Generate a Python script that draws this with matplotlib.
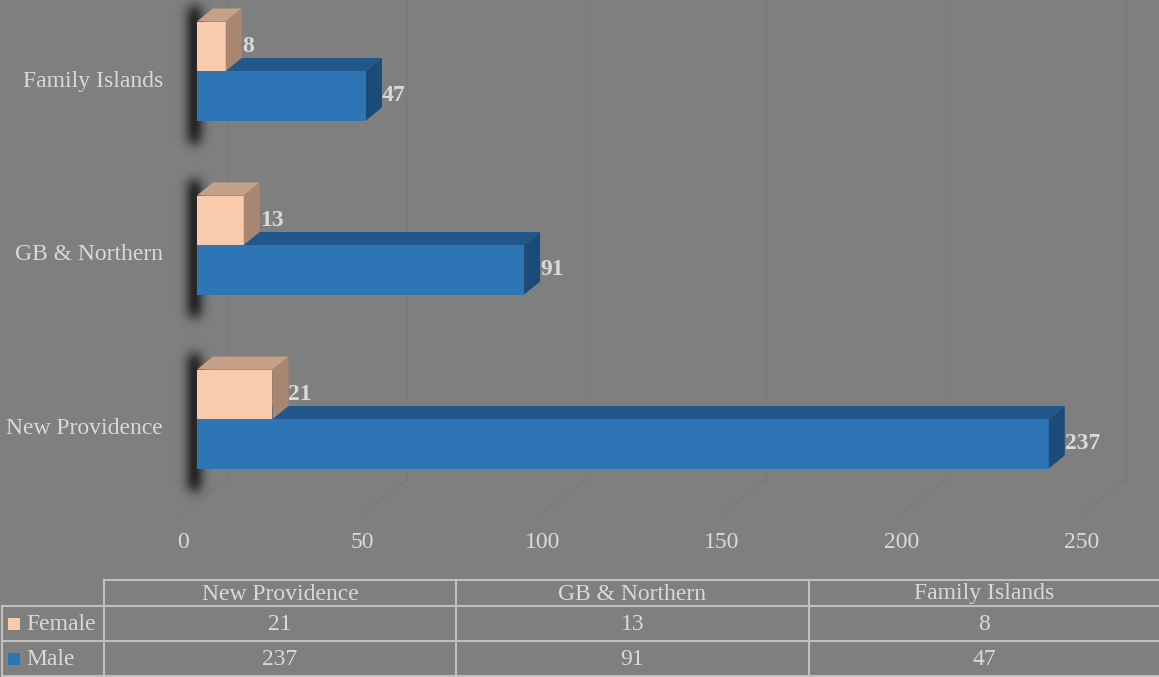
import matplotlib.pyplot as plt
from matplotlib.patches import Polygon, Rectangle
import numpy as np

categories = ['New Providence', 'GB & Northern', 'Family Islands']
female = [21, 13, 8]
male = [237, 91, 47]
ticks = [0, 50, 100, 150, 200, 250]

BG = '#7f7f7f'
TXT = '#d9d9d9'
F_FRONT, F_TOP, F_SIDE = '#f8cbad', '#c6a089', '#a98670'
M_FRONT, M_TOP, M_SIDE = '#2e75b6', '#22578b', '#1d4b77'

plt.rcParams['font.family'] = ['Liberation Serif', 'DejaVu Serif']

W, H = 1159, 677
fig = plt.figure(figsize=(W / 100, H / 100), dpi=100, facecolor=BG)

# plot axes: x in values, y in category units
S = 3.594          # px per value unit
U = 174.0          # px per category step
x0_px, y0_px = 197, 419
ax = fig.add_axes([0, 0, 1, 1])
ax.set_facecolor(BG)
ax.set_xlim(-x0_px / S, (W - x0_px) / S)
ybot = -(H - y0_px) / U
ax.set_ylim(ybot, ybot + H / U)
ax.axis('off')

h = 49.5 / U
dx, dy = 16 / S, 13 / U


def py(p):
    # pixel row from top -> data y
    return ybot + (H - p) / U


# back wall + floor gridlines (very faint)
wall_off = 30 / S
front_off = -14 / S
floor_back, floor_front = py(480), py(513)
for t in ticks:
    ax.plot([t + wall_off, t + wall_off], [floor_back, py(0)],
            color='#7a7a7a', lw=1, zorder=1)
    ax.plot([t + wall_off, t + front_off], [floor_back, floor_front],
            color='#7a7a7a', lw=1, zorder=1)
    ax.text(t + front_off, py(543), str(t), ha='center', va='center',
            fontsize=17, color=TXT)

# soft shadows at the left edge of each group
gx = np.arange(140, 270)
gy = np.arange(0, H)
mask = np.zeros((len(gy), len(gx)))
for i in range(len(categories)):
    top_px = y0_px - i * U - h * U - 13
    bot_px = y0_px - i * U + h * U
    ys = (gy >= top_px - 2) & (gy <= bot_px + 22)
    xs = (gx >= 190) & (gx <= 198)
    mask[np.ix_(ys, xs)] = 1.0
k = np.arange(-20, 21)
kern = np.exp(-k ** 2 / (2 * 6.0 ** 2))
kern /= kern.sum()
mask = np.apply_along_axis(lambda r: np.convolve(r, kern, mode='same'), 1, mask)
mask = np.apply_along_axis(lambda c: np.convolve(c, kern, mode='same'), 0, mask)
mask /= mask.max()
rgba = np.zeros(mask.shape + (4,))
rgba[..., 3] = mask * 0.7
ax.imshow(rgba, extent=[(gx[0] - x0_px) / S, (gx[-1] - x0_px) / S, py(gy[-1]), py(0)],
          aspect='auto', zorder=2, interpolation='bilinear')


def box(v, yb, front, top, side):
    yt = yb + h
    ax.add_patch(Rectangle((0, yb), v, h, facecolor=front, edgecolor='none', zorder=3))
    ax.add_patch(Polygon([(0, yt), (v, yt), (v + dx, yt + dy), (dx, yt + dy)],
                         facecolor=top, edgecolor='none', zorder=3))
    ax.add_patch(Polygon([(v, yb), (v, yt), (v + dx, yt + dy), (v + dx, yb + dy)],
                         facecolor=side, edgecolor='none', zorder=3))


for i, cat in enumerate(categories):
    box(male[i], i - h, M_FRONT, M_TOP, M_SIDE)
    box(female[i], i, F_FRONT, F_TOP, F_SIDE)
    ax.text(male[i] + dx, i - h / 2, str(male[i]), ha='left', va='center',
            fontsize=17, fontweight='bold', color=TXT, zorder=4)
    ax.text(female[i] + dx, i + h / 2, str(female[i]), ha='left', va='center',
            fontsize=17, fontweight='bold', color=TXT, zorder=4)
    ax.text(-34 / S, i - 10 / U, cat, ha='right', va='center',
            fontsize=17, color=TXT)

# data table in pixel coordinates
tx = fig.add_axes([0, 0, 1, 1])
tx.set_xlim(0, W)
tx.set_ylim(H, 0)
tx.axis('off')
tx.patch.set_alpha(0)
LC = '#c0c0c0'
cols = [104, 456, 809, W]
rows = [580, 606, 641, 676]
lw = 1.5
tx.plot([cols[0], W], [rows[0], rows[0]], color=LC, lw=lw)
for r in rows[1:]:
    tx.plot([2, W], [r, r], color=LC, lw=lw)
for c in cols[:-1]:
    tx.plot([c, c], [rows[0], rows[-1]], color=LC, lw=lw)
tx.plot([2, 2], [rows[1], rows[-1]], color=LC, lw=lw)

centers = [(cols[j] + cols[j + 1]) / 2 for j in range(3)]
for j, cat in enumerate(categories):
    tx.text(centers[j], (rows[0] + rows[1]) / 2 + 1, cat, ha='center', va='center',
            fontsize=17, color=TXT)
for r, (name, vals, col) in enumerate([('Female', female, F_FRONT), ('Male', male, M_FRONT)]):
    yc = (rows[r + 1] + rows[r + 2]) / 2
    tx.add_patch(Rectangle((8, yc - 6), 12, 12, facecolor=col, edgecolor='none'))
    tx.text(26, yc + 1, name, ha='left', va='center', fontsize=17, color=TXT)
    for j in range(3):
        tx.text(centers[j], yc + 1, str(vals[j]), ha='center', va='center',
                fontsize=17, color=TXT)

fig.savefig('out.png', dpi=100, facecolor=BG)
